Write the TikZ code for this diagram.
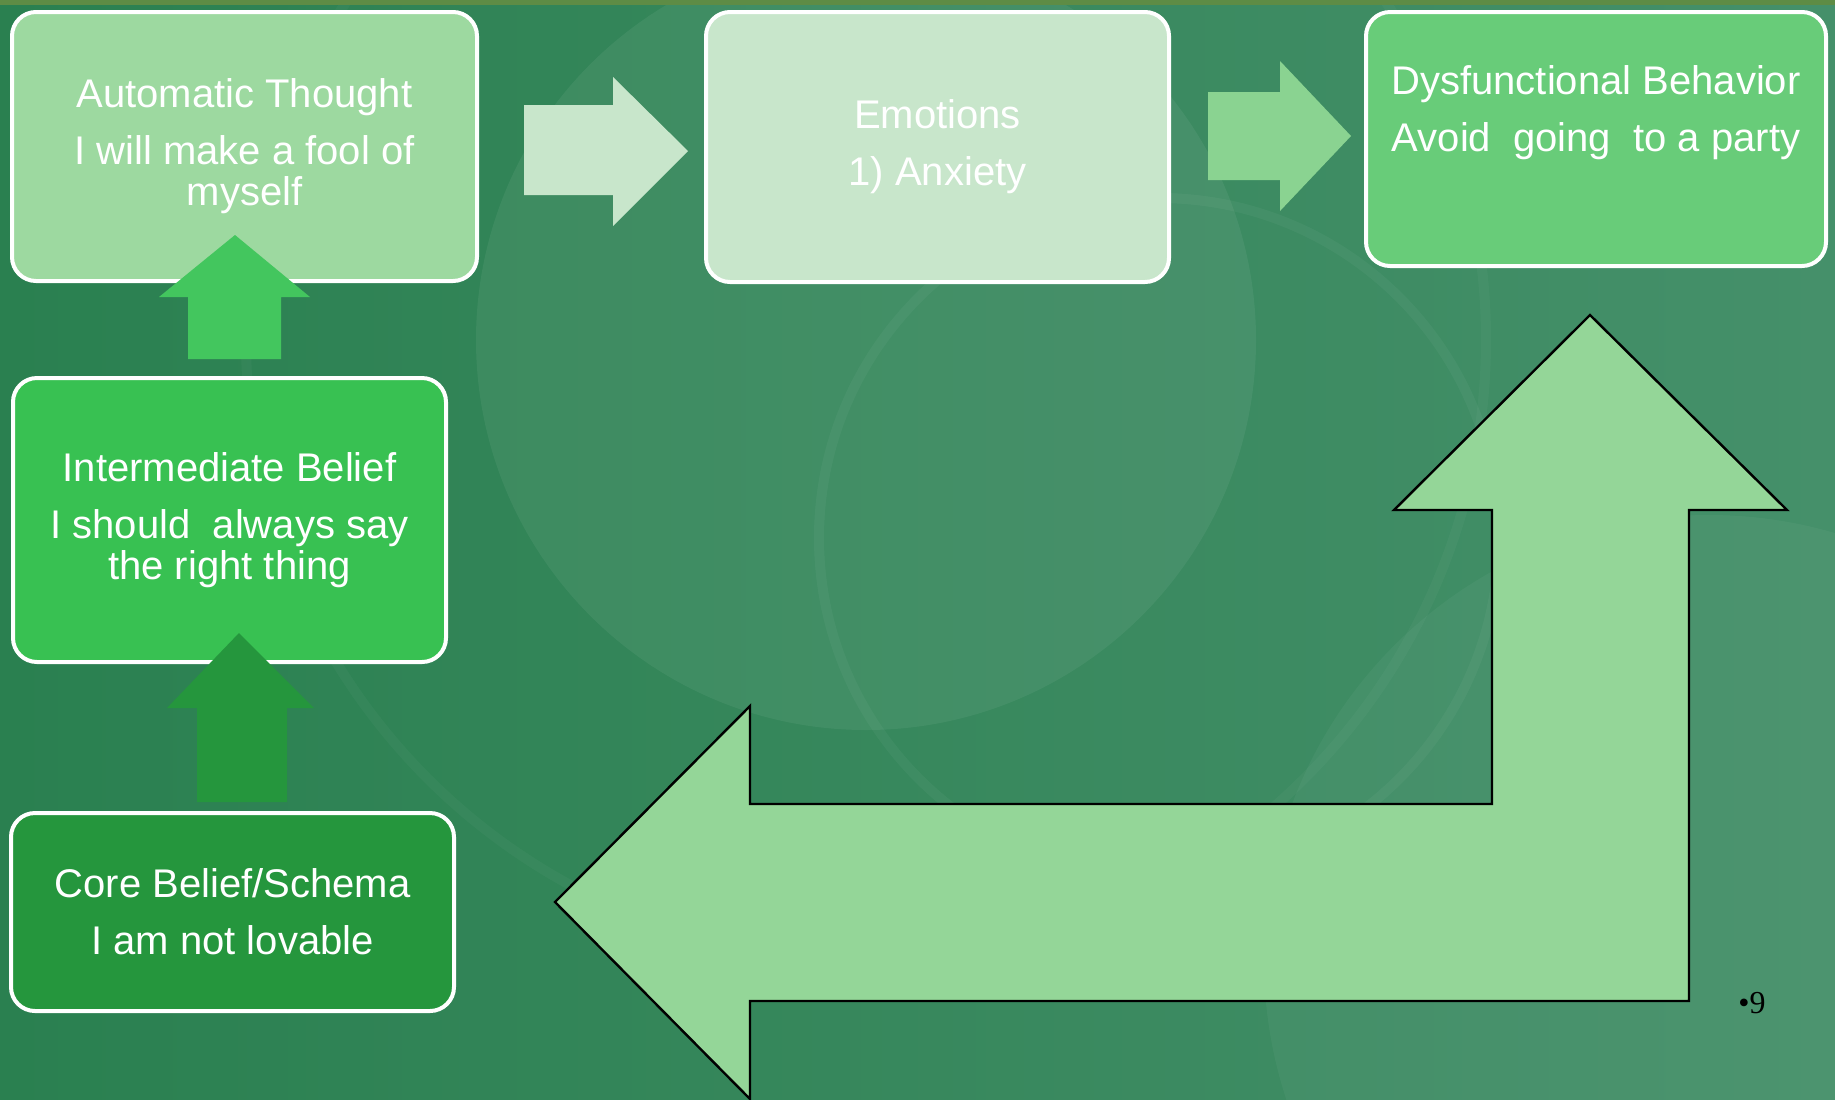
\documentclass[tikz,border=0pt]{standalone}
\usepackage{fontspec}
\setmainfont{Liberation Sans}
\newfontfamily\slidenumfont{Liberation Serif}
\definecolor{bgdark}{HTML}{2A8050}
\definecolor{bglight}{HTML}{45906A}
\definecolor{topband}{HTML}{5E8C45}
\definecolor{atfill}{HTML}{9DD9A0}
\definecolor{emofill}{HTML}{C8E6CB}
\definecolor{dbfill}{HTML}{68CC79}
\definecolor{ibfill}{HTML}{38C152}
\definecolor{cbfill}{HTML}{25963D}
\definecolor{arrowtwo}{HTML}{8AD391}
\definecolor{arrowup}{HTML}{43C65E}
\definecolor{bigfill}{HTML}{94D698}
\begin{document}
\begin{tikzpicture}[x=0.5pt, y=-0.5pt,
    box/.style={rectangle, rounded corners=12pt, draw=white, line width=2pt,
      text=white, align=center, font=\fontsize{20}{20.5}\selectfont},
    boxtext/.style={text=white, align=center, font=\fontsize{20}{20.5}\selectfont}]
    \useasboundingbox (0,0) rectangle (1835,1099);
    % background
    \shade[left color=bgdark, right color=bglight] (0,0) rectangle (1835,1099);
    \fill[white, opacity=0.06] (866,340) circle (390);
    \fill[white, opacity=0.04] (1709,960) circle (445);
    \draw[white, opacity=0.04, line width=5] (1159,538) circle (340);
    \draw[white, opacity=0.03, line width=5] (866,340) circle (620);
    \fill[topband] (0,0) rectangle (1835,5);
    % boxes
    \node (auto) at (244.5,146.5) [box, fill=atfill, minimum width=232.5pt, minimum height=134.5pt]
      {Automatic Thought\\[8pt] I will make a fool of\\ myself};
    \node (emo) at (937.5,147) [box, fill=emofill, minimum width=231.5pt, minimum height=135pt]
      {Emotions\\[8pt] 1) Anxiety};
    \node (dys) at (1596,139) [box, fill=dbfill, minimum width=230pt, minimum height=127pt] {};
    \node (dystext) at (1596,113) [boxtext]
      {Dysfunctional Behavior\\[8pt] Avoid\ \ going\ \ to a party};
    \node (inter) at (229.5,520) [box, fill=ibfill, minimum width=216.5pt, minimum height=142pt]
      {Intermediate Belief\\[8pt] I should\ \ always say\\ the right thing};
    \node (core) at (232.5,912) [box, fill=cbfill, minimum width=221.5pt, minimum height=99pt]
      {Core Belief/Schema\\[8pt] I am not lovable};
    % block arrows
    \fill[emofill] (524,105) -- (613,105) -- (613,77) -- (688,151) -- (613,226) -- (613,195) -- (524,195) -- cycle;
    \fill[arrowtwo] (1208,92) -- (1280,92) -- (1280,61) -- (1351,136) -- (1280,211) -- (1280,180) -- (1208,180) -- cycle;
    \fill[arrowup] (188,359) -- (188,297) -- (159,297) -- (235,235) -- (310,297) -- (281,297) -- (281,359) -- cycle;
    \fill[cbfill] (197,802) -- (197,708) -- (167,708) -- (239,633) -- (314,708) -- (287,708) -- (287,802) -- cycle;
    \draw[fill=bigfill, draw=black, line width=1.2pt] (1590,315) -- (1787,510) -- (1689,510) -- (1689,1001)
      -- (750,1001) -- (750,1099) -- (555,902) -- (750,706) -- (750,804) -- (1492,804) -- (1492,510)
      -- (1394,510) -- cycle;
    % slide number
    \node (slidenum) at (1752,1003) [font=\slidenumfont\fontsize{16}{18}\selectfont] {•9};
\end{tikzpicture}
\end{document}
